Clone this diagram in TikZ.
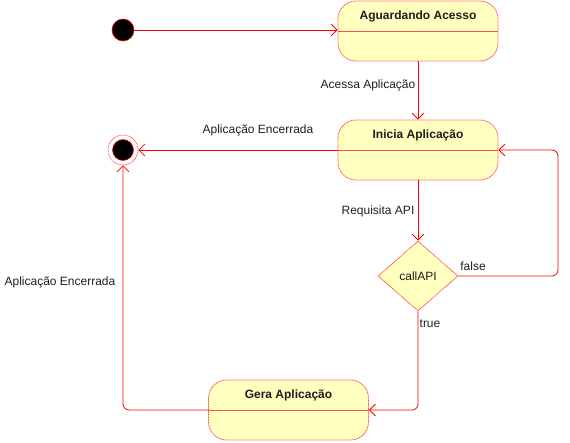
\documentclass[tikz,border=0pt]{standalone}
\usepackage{fontspec}
\setmainfont{Liberation Sans}
\usetikzlibrary{arrows.meta,shapes.geometric,calc}
\definecolor{stfill}{RGB}{255,255,192}
\definecolor{lred}{RGB}{255,0,0}
\definecolor{bred}{RGB}{255,80,80}
\definecolor{txt}{RGB}{30,30,30}
\tikzset{
  stbox/.style={draw=bred, line width=0.8pt, dash pattern=on 1pt off 0.6pt, fill=stfill, rounded corners=18pt, minimum width=160pt, minimum height=60pt, inner sep=0pt},
  sttitle/.style={font=\bfseries\fontsize{12}{14}\selectfont, text=txt, inner sep=0pt},
  lbl/.style={font=\fontsize{12}{14}\selectfont, text=txt, inner sep=0pt},
  conn/.style={draw=lred, line width=0.8pt, -{Straight Barb[length=6pt,width=12pt,line width=0.8pt]}},
  divline/.style={draw=bred, line width=0.7pt},
}
\begin{document}
\begin{tikzpicture}[x=1pt,y=-1pt]
\useasboundingbox (0,0) rectangle (570,442);
% initial
\node[circle, fill=black, draw=lred, line width=0.6pt, minimum size=22pt, inner sep=0pt] (init) at (123,30) {};
% final
\node[circle, draw=bred, line width=0.7pt, dash pattern=on 1pt off 0.6pt, fill=white, minimum size=30pt, inner sep=0pt] (fin) at (123,150) {};
\node[circle, fill=black, draw=lred, line width=0.5pt, minimum size=21pt, inner sep=0pt] (finin) at (fin.center) {};
% states
\node[stbox] (agu) at (418,31) {};
\draw[divline] (agu.west) -- (agu.east);
\node[sttitle] (agut) at (418,16) {Aguardando Acesso};
\node[stbox] (ini) at (418,150) {};
\draw[divline] (ini.west) -- (ini.east);
\node[sttitle] (init2) at (418,135) {Inicia Aplicação};
\node[stbox] (gera) at (288.5,410) {};
\draw[divline] (gera.west) -- (gera.east);
\node[sttitle] (gerat) at (288.5,395) {Gera Aplicação};
% decision
\node[diamond, draw=bred, line width=0.8pt, dash pattern=on 1pt off 0.6pt, fill=stfill, minimum width=80pt, minimum height=70pt, inner sep=0pt, font=\fontsize{12}{14}\selectfont, text=txt] (dec) at (418,276) {callAPI};
% edges
\draw[conn] (init.east) -- (init.east -| agu.west);
\draw[conn] (agu.south) -- (ini.north);
\node[lbl] (l1) at (368,85) {Acessa Aplicação};
\draw[conn] (ini.west) -- (fin.east);
\node[lbl] (l2) at (258,130) {Aplicação Encerrada};
\draw[conn] (ini.south) -- (dec.north);
\node[lbl] (l3) at (378,211) {Requisita API};
\coordinate (fa) at (558,276);
\coordinate (fb) at (558,150);
\draw[conn, rounded corners=6pt] (dec.east) -- (fa) -- (fb) -- (ini.east);
\node[lbl] (l4) at (473,266) {false};
\coordinate (ta) at (418,410);
\draw[conn, rounded corners=6pt] (dec.south) -- (ta) -- (gera.east);
\node[lbl] (l5) at (430,324) {true};
\coordinate (ga) at (123,410);
\draw[conn, rounded corners=6pt] (gera.west) -- (ga) -- (fin.south);
\node[lbl] (l6) at (60,282) {Aplicação Encerrada};
\end{tikzpicture}
\end{document}
